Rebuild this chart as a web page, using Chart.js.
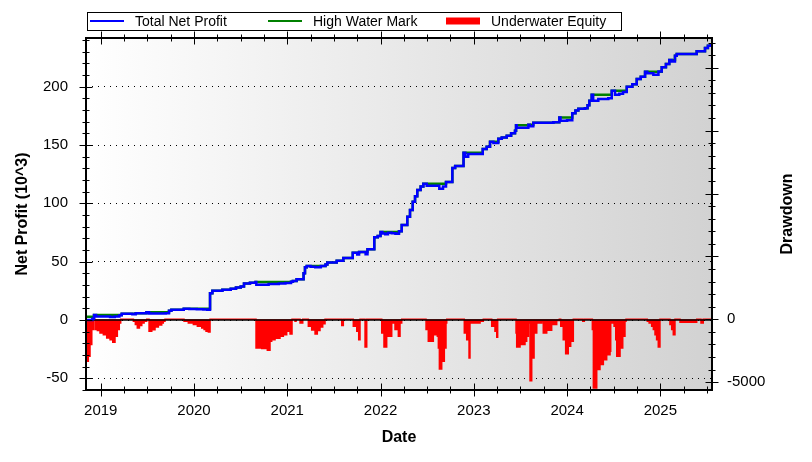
<!DOCTYPE html>
<html>
<head>
<meta charset="utf-8">
<script src="https://cdn.jsdelivr.net/npm/chart.js@4.4.1/dist/chart.umd.min.js"></script>
<style>
  html, body { margin: 0; padding: 0; background: #fff; }
  #wrap { width: 812px; height: 462px; }
</style>
</head>
<body>
<div id="wrap"><canvas id="chart-equity" width="812" height="462"></canvas></div>
<script>
// dates are decimal years
var profitDates = [
  2018.845, 2018.910, 2018.928, 2018.950, 2019.100, 2019.150, 2019.200, 2019.225,
  2019.339, 2019.375, 2019.490, 2019.518, 2019.697, 2019.732, 2019.757, 2019.890,
  2019.950, 2020.030, 2020.100, 2020.143, 2020.172, 2020.197, 2020.304, 2020.394,
  2020.450, 2020.501, 2020.536, 2020.600, 2020.660, 2020.668, 2020.800, 2020.910,
  2020.980, 2021.040, 2021.060, 2021.100, 2021.175, 2021.190, 2021.209, 2021.250,
  2021.300, 2021.360, 2021.410, 2021.430, 2021.530, 2021.601, 2021.702, 2021.750,
  2021.770, 2021.840, 2021.860, 2021.933, 2021.970, 2022.000, 2022.020, 2022.050,
  2022.080, 2022.120, 2022.160, 2022.198, 2022.227, 2022.287, 2022.316, 2022.345,
  2022.370, 2022.394, 2022.430, 2022.459, 2022.495, 2022.600, 2022.630, 2022.670,
  2022.702, 2022.770, 2022.800, 2022.890, 2022.910, 2022.940, 2023.096, 2023.138,
  2023.174, 2023.210, 2023.263, 2023.300, 2023.353, 2023.400, 2023.442, 2023.453,
  2023.460, 2023.585, 2023.600, 2023.638, 2023.853, 2023.917, 2023.930, 2024.000,
  2024.056, 2024.090, 2024.121, 2024.192, 2024.220, 2024.239, 2024.264, 2024.280,
  2024.335, 2024.442, 2024.479, 2024.514, 2024.560, 2024.600, 2024.640, 2024.700,
  2024.747, 2024.790, 2024.836, 2024.860, 2024.925, 2024.980, 2025.015, 2025.060,
  2025.096, 2025.122, 2025.157, 2025.176, 2025.390, 2025.479, 2025.510, 2025.540
];
var profitValues = [
  0, 1.0, 4.3, 3.0, 2.6, 3.0, 4.0, 5.4,
  4.9, 5.8, 6.6, 5.5, 5.9, 8.0, 8.9, 9.7,
  9.5, 9.2, 9.0, 8.8, 23.0, 25.1, 26.0, 26.9,
  27.8, 28.8, 31.4, 32.0, 32.6, 30.3, 30.9, 31.3,
  31.7, 32.7, 33.5, 35.0, 40.0, 45.2, 46.3, 45.6,
  45.2, 46.4, 47.5, 49.4, 50.9, 53.2, 57.7, 56.2,
  58.3, 56.3, 60.6, 70.9, 72.0, 75.4, 74.2, 73.5,
  74.8, 74.3, 74.0, 76.0, 81.4, 88.6, 94.3, 101.4,
  106.0, 111.4, 114.5, 116.8, 115.1, 115.0, 112.5, 114.5,
  118.3, 130.3, 132.0, 143.4, 140.0, 142.3, 146.6, 148.6,
  152.9, 151.8, 155.4, 156.5, 158.0, 160.0, 162.3, 166.9,
  164.9, 167.3, 166.0, 169.1, 169.5, 173.7, 170.9, 171.2,
  177.2, 179.5, 181.1, 181.5, 184.0, 188.0, 193.2, 188.0,
  189.5, 190.0, 196.6, 193.2, 194.0, 195.5, 200.0, 202.0,
  206.6, 208.5, 212.9, 211.5, 210.3, 213.0, 216.6, 219.5,
  222.9, 221.5, 226.6, 228.0, 230.3, 233.2, 235.0, 236.6
];

var hwmDates = [
  2018.845, 2018.928, 2019.225, 2019.375, 2019.490, 2019.732, 2019.757, 2019.890,
  2020.172, 2020.197, 2020.304, 2020.394, 2020.450, 2020.501, 2020.536, 2020.600,
  2020.660, 2021.040, 2021.060, 2021.100, 2021.175, 2021.190, 2021.209, 2021.410,
  2021.430, 2021.530, 2021.601, 2021.702, 2021.770, 2021.860, 2021.933, 2021.970,
  2022.000, 2022.198, 2022.227, 2022.287, 2022.316, 2022.345, 2022.370, 2022.394,
  2022.430, 2022.459, 2022.702, 2022.770, 2022.800, 2022.890, 2023.096, 2023.138,
  2023.174, 2023.263, 2023.300, 2023.353, 2023.400, 2023.442, 2023.453, 2023.585,
  2023.638, 2023.853, 2023.917, 2024.056, 2024.090, 2024.121, 2024.192, 2024.220,
  2024.239, 2024.264, 2024.479, 2024.640, 2024.700, 2024.747, 2024.790, 2024.836,
  2025.015, 2025.060, 2025.096, 2025.157, 2025.176, 2025.390, 2025.479, 2025.510,
  2025.540
];
var hwmValues = [
  2.9, 4.3, 5.4, 5.8, 6.6, 8.0, 8.9, 9.7,
  23.0, 25.1, 26.0, 26.9, 27.8, 28.8, 31.4, 32.0,
  32.6, 32.7, 33.5, 35.0, 40.0, 45.2, 46.3, 47.5,
  49.4, 50.9, 53.2, 57.7, 58.3, 60.6, 70.9, 72.0,
  75.4, 76.0, 81.4, 88.6, 94.3, 101.4, 106.0, 111.4,
  114.5, 116.8, 118.3, 130.3, 132.0, 143.4, 146.6, 148.6,
  152.9, 155.4, 156.5, 158.0, 160.0, 162.3, 166.9, 167.3,
  169.1, 169.5, 173.7, 177.2, 179.5, 181.1, 181.5, 184.0,
  188.0, 193.2, 196.6, 200.0, 202.0, 206.6, 208.5, 212.9,
  216.6, 219.5, 222.9, 226.6, 228.0, 230.3, 233.2, 235.0,
  236.6
];

var drawdownDates = [
  2018.845, 2018.867, 2018.885, 2018.904, 2018.921, 2018.939, 2018.964, 2018.992,
  2019.028, 2019.064, 2019.100, 2019.129, 2019.153, 2019.178, 2019.199, 2019.214,
  2019.350, 2019.371, 2019.392, 2019.415, 2019.440, 2019.465, 2019.493, 2019.518,
  2019.547, 2019.582, 2019.618, 2019.654, 2019.671, 2019.689, 2019.893, 2019.939,
  2019.993, 2020.036, 2020.083, 2020.108, 2020.129, 2020.154, 2020.172, 2020.665,
  2020.726, 2020.786, 2020.815, 2020.833, 2020.869, 2020.922, 2020.958, 2020.994,
  2021.030, 2021.051, 2021.083, 2021.094, 2021.137, 2021.166, 2021.226, 2021.262,
  2021.298, 2021.322, 2021.351, 2021.380, 2021.405, 2021.584, 2021.601, 2021.708,
  2021.745, 2021.766, 2021.780, 2021.834, 2021.852, 2022.013, 2022.037, 2022.066,
  2022.120, 2022.155, 2022.191, 2022.209, 2022.227, 2022.488, 2022.512, 2022.566,
  2022.609, 2022.620, 2022.631, 2022.656, 2022.684, 2022.702, 2022.710, 2022.898,
  2022.924, 2022.949, 2022.959, 2023.013, 2023.067, 2023.102, 2023.192, 2023.227,
  2023.246, 2023.256, 2023.453, 2023.460, 2023.496, 2023.549, 2023.567, 2023.585,
  2023.603, 2023.621, 2023.646, 2023.675, 2023.728, 2023.745, 2023.782, 2023.835,
  2023.889, 2023.917, 2023.932, 2023.959, 2023.985, 2024.013, 2024.039, 2024.067,
  2024.168, 2024.185, 2024.271, 2024.282, 2024.318, 2024.353, 2024.389, 2024.425,
  2024.461, 2024.468, 2024.504, 2024.522, 2024.533, 2024.568, 2024.597, 2024.621,
  2024.632, 2024.860, 2024.880, 2024.907, 2024.925, 2024.943, 2024.960, 2024.978,
  2024.996, 2025.103, 2025.122, 2025.139, 2025.157, 2025.211, 2025.390, 2025.436,
  2025.460, 2025.551
];
var drawdownValues = [
  -3340, -2940, -2010, -820, 0, -820, -900, -1090,
  -1220, -1480, -1620, -1830, -1350, -820, -290, 0,
  -160, -420, -690, -500, -290, -160, 0, -950,
  -830, -610, -450, -290, -160, 0, -160, -290,
  -420, -560, -690, -820, -950, -1000, 0, -2280,
  -2330, -2460, -1750, -1620, -1500, -1350, -1220, -950,
  -1170, 0, -160, 0, -290, 0, -560, -850,
  -1170, -900, -610, -350, 0, -500, 0, -560,
  -950, -1620, 0, -2200, 0, -1090, -2200, -1350,
  -290, -820, -1350, -290, 0, -820, -1750, -1220,
  -1350, -2280, -3950, -3340, -2280, -290, 0, -1090,
  -1620, -3070, -290, -290, -160, 0, -560, -950,
  -1430, 0, -1090, -2200, -2010, -1750, -1350, -290,
  -4880, -3070, -1090, -290, -160, -1090, -870, -420,
  -100, 0, -560, -1620, -2730, -2150, -1750, 0,
  -160, 0, -820, -5460, -4000, -3600, -3210, -2810,
  -2540, -290, -560, -1620, -2940, -2280, -1350, -160,
  0, -160, -290, -560, -820, -1220, -1620, -2200,
  0, -420, -820, -1220, 0, -240, 0, -290,
  0, 0
];

var seriesNames = ["Total Net Profit", "High Water Mark", "Underwater Equity"];
var xTitle = "Date";
var yTitle = "Net Profit (10^3)";
var y2Title = "Drawdown";

// tick labels
var yearTicks = [2019, 2020, 2021, 2022, 2023, 2024, 2025];
var profitTicks = [-50, 0, 50, 100, 150, 200];
var drawdownTicks = [-5000, 0];

// axis ranges
var xMin = 2018.842, xMax = 2025.554;
var yMin = -60.0, yMax = 241.75;
var y2Min = -5620, y2Max = 22361;

function toPoints(xs, ys) {
  return xs.map(function (x, i) {
    return { x: x, y: ys[i] };
  });
}

function fixedTicks(values) {
  return function (scale) {
    scale.ticks = values.map(function (v) {
      return { value: v };
    });
  };
}

var FONT = "'Liberation Sans', Arial, sans-serif";
Chart.defaults.font.family = FONT;
Chart.defaults.font.size = 15;
Chart.defaults.color = "#000";

var backgroundPlugin = {
  id: "plotBackground",
  beforeDraw: function (chart) {
    var ctx = chart.ctx;
    var a = chart.chartArea;
    var g = ctx.createLinearGradient(a.left, 0, a.right, 0);
    g.addColorStop(0, "#ffffff");
    g.addColorStop(1, "#d2d2d2");
    ctx.save();
    ctx.fillStyle = g;
    ctx.fillRect(a.left, a.top, a.right - a.left, a.bottom - a.top);
    ctx.restore();
  },
};

var framePlugin = {
  id: "frameTicks",
  afterDraw: function (chart) {
    var ctx = chart.ctx;
    var a = chart.chartArea;
    var sx = chart.scales.x;
    var sy = chart.scales.y;
    var sy2 = chart.scales.y2;
    ctx.save();
    ctx.strokeStyle = "#000";
    ctx.lineWidth = 2;
    ctx.strokeRect(a.left, a.top, a.right - a.left, a.bottom - a.top);

    ctx.lineWidth = 1;
    ctx.beginPath();
    // quarterly ticks on bottom and top
    for (var q = Math.ceil(sx.min * 4); q <= Math.floor(sx.max * 4); q++) {
      var px = Math.round(sx.getPixelForValue(q / 4)) + 0.5;
      var len = q % 4 === 0 ? 6.5 : 3.5;
      ctx.moveTo(px, a.bottom - len);
      ctx.lineTo(px, a.bottom + len);
      ctx.moveTo(px, a.top - len);
      ctx.lineTo(px, a.top + len);
    }
    // left axis, minor every 10
    for (var v = Math.ceil(sy.min / 10) * 10; v <= sy.max; v += 10) {
      var py = Math.round(sy.getPixelForValue(v)) + 0.5;
      var l2 = v % 50 === 0 ? 6.5 : 3.5;
      ctx.moveTo(a.left - l2, py);
      ctx.lineTo(a.left + l2, py);
    }
    // right axis, minor every 1000
    for (var w = Math.ceil(sy2.min / 1000) * 1000; w <= sy2.max; w += 1000) {
      var py2 = Math.round(sy2.getPixelForValue(w)) + 0.5;
      var l3 = w % 5000 === 0 ? 6.5 : 3.5;
      ctx.moveTo(a.right - l3, py2);
      ctx.lineTo(a.right + l3, py2);
    }
    ctx.stroke();

    // axis titles
    ctx.fillStyle = "#000";
    ctx.font = "bold 16px " + FONT;
    ctx.textAlign = "center";
    ctx.textBaseline = "middle";
    ctx.fillText(xTitle, (a.left + a.right) / 2, 438);
    var midY = (a.top + a.bottom) / 2;
    ctx.save();
    ctx.translate(23, midY);
    ctx.rotate(-Math.PI / 2);
    ctx.fillText(yTitle, 0, 0);
    ctx.restore();
    ctx.save();
    ctx.translate(788, midY);
    ctx.rotate(-Math.PI / 2);
    ctx.fillText(y2Title, 0, 0);
    ctx.restore();

    // legend box
    ctx.fillStyle = "#fff";
    ctx.fillRect(87, 12, 534, 18);
    ctx.lineWidth = 1;
    ctx.strokeRect(87.5, 12.5, 534, 18);
    ctx.font = "14px " + FONT;
    ctx.textAlign = "left";
    var items = chart.data.datasets.filter(function (ds) {
      return seriesNames.indexOf(ds.label) >= 0;
    });
    items.forEach(function (ds, i) {
      var x0 = 90 + i * 178;
      var cy = 21;
      if (ds.fill) {
        ctx.fillStyle = ds.backgroundColor;
        ctx.fillRect(x0, cy - 3.5, 34, 7);
      } else {
        ctx.strokeStyle = ds.borderColor;
        ctx.lineWidth = 2;
        ctx.beginPath();
        ctx.moveTo(x0, cy);
        ctx.lineTo(x0 + 34, cy);
        ctx.stroke();
      }
      ctx.fillStyle = "#000";
      ctx.fillText(ds.label, x0 + 45, cy + 1);
    });
    ctx.restore();
  },
};

var ctx = document.getElementById("chart-equity").getContext("2d");

var chartConfig = {
  type: "line",
  data: {
    datasets: [
      {
        label: seriesNames[0],
        data: toPoints(profitDates, profitValues),
        yAxisID: "y",
        borderColor: "#0000ff",
        borderWidth: 2.5,
        stepped: "before",
        pointRadius: 0,
        fill: false,
      },
      {
        label: seriesNames[1],
        data: toPoints(hwmDates, hwmValues),
        yAxisID: "y",
        borderColor: "#008000",
        borderWidth: 2.5,
        stepped: "before",
        pointRadius: 0,
        fill: false,
      },
      {
        label: "zero",
        data: [
          { x: xMin, y: 0 },
          { x: xMax, y: 0 },
        ],
        yAxisID: "y",
        borderColor: "#000",
        borderWidth: 1.5,
        pointRadius: 0,
        fill: false,
      },
      {
        label: seriesNames[2],
        data: toPoints(drawdownDates, drawdownValues),
        yAxisID: "y2",
        borderColor: "#ff0000",
        backgroundColor: "#ff0000",
        borderWidth: 1.5,
        stepped: "before",
        pointRadius: 0,
        fill: "origin",
      },
    ],
  },
  options: {
    responsive: false,
    animation: false,
    layout: {
      padding: { top: 38, left: 0, right: 0, bottom: 0 },
    },
    plugins: {
      legend: { display: false },
      tooltip: { enabled: false },
    },
    scales: {
      x: {
        type: "linear",
        position: "bottom",
        min: xMin,
        max: xMax,
        afterFit: function (s) {
          s.height = 72;
        },
        afterBuildTicks: fixedTicks(yearTicks),
        grid: { display: false, drawTicks: false },
        border: { display: false },
        ticks: {
          padding: 12,
          autoSkip: false,
          maxRotation: 0,
          callback: function (v) {
            return String(v);
          },
        },
      },
      y: {
        type: "linear",
        position: "left",
        min: yMin,
        max: yMax,
        afterFit: function (s) {
          s.width = 86;
        },
        afterBuildTicks: fixedTicks(profitTicks),
        grid: {
          display: true,
          drawTicks: false,
          drawOnChartArea: true,
          color: "#000",
          lineWidth: 1,
        },
        border: { display: false, dash: [1, 5] },
        ticks: {
          padding: 18,
          autoSkip: false,
          callback: function (v) {
            return String(v);
          },
        },
      },
      y2: {
        type: "linear",
        position: "right",
        min: y2Min,
        max: y2Max,
        afterFit: function (s) {
          s.width = 100;
        },
        afterBuildTicks: fixedTicks(drawdownTicks),
        grid: { display: false, drawTicks: false },
        border: { display: false },
        ticks: {
          padding: 15,
          autoSkip: false,
          callback: function (v) {
            return String(v);
          },
        },
      },
    },
  },
  plugins: [backgroundPlugin, framePlugin],
};

var chartInstance = new Chart(ctx, chartConfig);
</script>
</body>
</html>
